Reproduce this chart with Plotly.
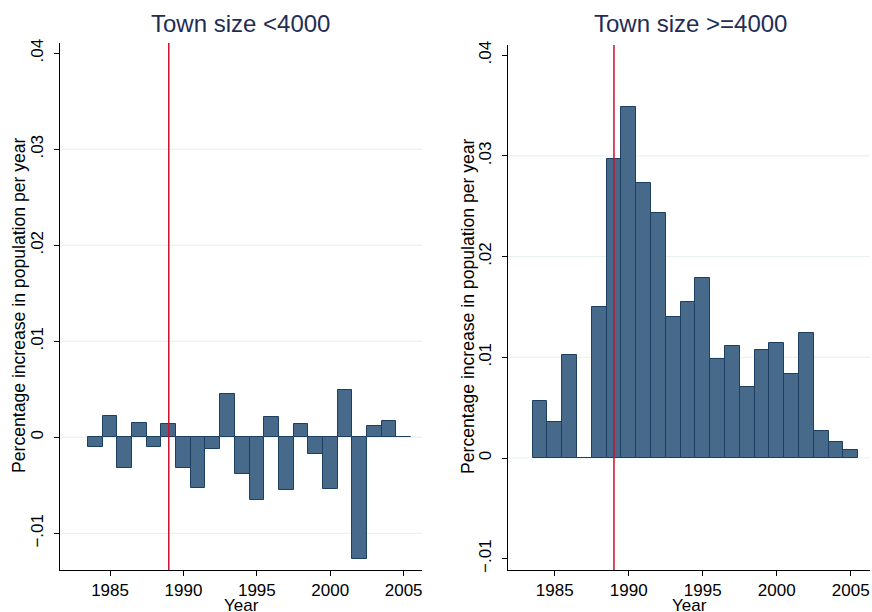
import plotly.graph_objects as go

# Annual population growth by town size, 1984-2005
years = list(range(1984, 2006))

small_towns = [
    -0.00097, 0.00222, -0.00316, 0.00153, -0.00097, 0.00142, -0.00316, -0.00528,
    -0.00122, 0.00455, -0.00378, -0.00649, 0.00215, -0.00552, 0.00142, -0.00170,
    -0.00542, 0.00490, -0.01271, 0.00118, 0.00170, 0.00002,
]
large_towns = [
    0.00568, 0.00360, 0.01023, 0.00005, 0.01497, 0.02972, 0.03489, 0.02728,
    0.02430, 0.01403, 0.01552, 0.01790, 0.00980, 0.01109, 0.00710, 0.01069,
    0.01145, 0.00835, 0.01241, 0.00271, 0.00155, 0.00079,
]

panel_titles = ["Town size <4000", "Town size >=4000"]
x_title = "Year"
y_title = "Percentage increase in population per year"
x_ticks = [1985, 1990, 1995, 2000, 2005]
y_ticks = [-0.01, 0.0, 0.01, 0.02, 0.03, 0.04]
y_tick_text = ["\u2212.01", "0", ".01", ".02", ".03", ".04"]
grid_left = [-0.01, 0.0, 0.01, 0.02, 0.03]
grid_right = [0.0, 0.01, 0.02, 0.03]
reform_year = 1989

FONT = "Liberation Sans, Arial, Helvetica, sans-serif"
BAR_FILL = "#476a8b"
BAR_EDGE = "#1c3f63"
GRID = "#e6eff1"
RED = "#c8102e"
TITLE_COLOR = "#1f2d55"

W, H = 872, 612

fig = go.Figure()

panels = [
    dict(vals=small_towns, xa="x", ya="y", grid=grid_left,
         xdom=[60 / W, 422 / W], ydom=[1 - 570 / H, 1 - 43 / H],
         xr=[1981.59, 2006.25], yr=[-0.01382, 0.04107],
         cx=240.5 / W, ytx=19 / W, yty=1 - 305 / H),
    dict(vals=large_towns, xa="x2", ya="y2", grid=grid_right,
         xdom=[508 / W, 870 / W], ydom=[1 - 570 / H, 1 - 45 / H],
         xr=[1981.84, 2006.3], yr=[-0.01112, 0.04101],
         cx=690 / W, ytx=468 / W, yty=1 - 306 / H),
]

for i, p in enumerate(panels):
    fig.add_trace(go.Bar(
        x=years, y=p["vals"], width=1.0,
        marker=dict(color=BAR_FILL, line=dict(color=BAR_EDGE, width=1)),
        xaxis=p["xa"], yaxis=p["ya"], showlegend=False, hoverinfo="x+y",
    ))
    # horizontal grid lines
    for g in p["grid"]:
        fig.add_shape(type="line", xref=p["xa"] + " domain", yref=p["ya"],
                      x0=0, x1=1, y0=g, y1=g, layer="below",
                      line=dict(color=GRID, width=1))
    # reference year marker
    fig.add_shape(type="line", xref=p["xa"], yref=p["ya"] + " domain",
                  x0=reform_year, x1=reform_year, y0=0, y1=1, layer="above",
                  line=dict(color=RED, width=1.5))
    # panel title
    fig.add_annotation(text=panel_titles[i], xref="paper", yref="paper",
                       x=p["cx"], y=1 - 24 / H, xanchor="center", yanchor="middle",
                       showarrow=False, font=dict(family=FONT, size=24, color=TITLE_COLOR))
    # axis titles
    fig.add_annotation(text=x_title, xref=p["xa"] + " domain", yref="paper",
                       x=0.5, y=1 - 605 / H, xanchor="center", yanchor="middle",
                       showarrow=False, font=dict(family=FONT, size=17, color="black"))
    fig.add_annotation(text=y_title, xref="paper", yref="paper", textangle=-90,
                       x=p["ytx"], y=p["yty"], xanchor="center", yanchor="middle",
                       showarrow=False, font=dict(family=FONT, size=17.6, color="black"))

    suffix = "" if i == 0 else "2"
    fig.layout["xaxis" + suffix] = dict(
        domain=p["xdom"], range=p["xr"], anchor=p["ya"],
        tickvals=x_ticks, ticks="outside", ticklen=5, tickcolor="black",
        showline=True, linecolor="black", linewidth=1, showgrid=False,
        zeroline=False, tickfont=dict(family=FONT, size=17, color="black"),
        automargin=False,
    )
    fig.layout["yaxis" + suffix] = dict(
        domain=p["ydom"], range=p["yr"], anchor=p["xa"],
        tickvals=y_ticks, ticktext=y_tick_text, tickangle=-90,
        ticks="outside", ticklen=5, tickcolor="black", ticklabelstandoff=4,
        showline=True, linecolor="black", linewidth=1, showgrid=False,
        zeroline=False, tickfont=dict(family=FONT, size=17, color="black"),
        automargin=False,
    )

fig.update_layout(
    width=W, height=H, margin=dict(l=0, r=0, t=0, b=0),
    paper_bgcolor="white", plot_bgcolor="white", bargap=0,
)

fig.write_html("out.html")
